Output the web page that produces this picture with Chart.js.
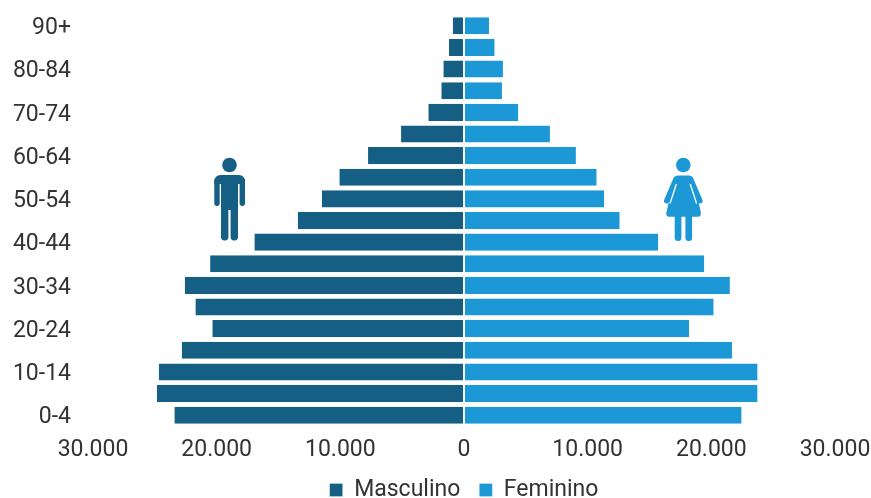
<!DOCTYPE html>
<html><head><meta charset="utf-8">
<style>html,body{margin:0;padding:0;background:#fff}#w{width:871px;height:498px;position:relative}</style>
<script src="https://cdn.jsdelivr.net/npm/chart.js@4"></script>
</head><body><div id="w"><canvas id="c"></canvas></div>
<script>
const categories = ['90+','85-89','80-84','75-79','70-74','65-69','60-64','55-59','50-54','45-49','40-44','35-39','30-34','25-29','20-24','15-19','10-14','5-9','0-4'];
const masculino = [-910,-1210,-1670,-1835,-2885,-5090,-7760,-10080,-11500,-13445,-16950,-20530,-22580,-21720,-20350,-22820,-24680,-24840,-23420];
const feminino = [2020,2480,3150,3070,4390,6950,9050,10730,11340,12590,15710,19430,21500,20190,18210,21670,23740,23740,22450];
const xTicks = [-30000,-20000,-10000,0,10000,20000,30000];
const DARK='#155F85', LIGHT='#1C98D6', TEXT='#333333';
const FONT='Roboto';

const legendShift={id:'legendShift',afterLayout(ch){ch.legend.top=459.5;}};
const icons={id:'icons',afterDraw(ch){
  const c=ch.ctx;c.save();
  // man
  c.fillStyle=DARK;
  c.beginPath();c.arc(229.5,165,7.3,0,7);c.fill();
  const rr=(x,y,w,h,r)=>{c.beginPath();c.roundRect(x,y,w,h,r);c.fill();};
  rr(214.3,175,30.7,9,[6,6,0,0]);
  rr(214.3,178,5.4,28,2.7);
  rr(239.6,178,5.4,28,2.7);
  rr(221,176,17,34,0);
  rr(221,200,7.4,40.5,3.4);
  rr(230.6,200,7.4,40.5,3.4);
  // woman
  c.fillStyle=LIGHT;c.strokeStyle=LIGHT;c.lineCap='round';
  c.beginPath();c.arc(683.3,165,7.3,0,7);c.fill();
  c.beginPath();
  c.moveTo(678,175.4);c.lineTo(689,175.4);c.quadraticCurveTo(692,175.4,693,179);
  c.lineTo(700.8,212);c.quadraticCurveTo(701.5,216.8,698,216.8);
  c.lineTo(669,216.8);c.quadraticCurveTo(665.5,216.8,666.5,212);
  c.lineTo(674,179);c.quadraticCurveTo(675,175.4,678,175.4);c.closePath();c.fill();
  c.lineWidth=5.4;
  c.beginPath();c.moveTo(676,179);c.lineTo(666.7,200.8);c.stroke();
  c.beginPath();c.moveTo(690.6,179);c.lineTo(699.9,200.8);c.stroke();
  c.strokeStyle='#fff';c.lineWidth=1.3;c.lineCap='butt';
  c.beginPath();c.moveTo(676.4,184);c.lineTo(670,203.5);c.stroke();
  c.beginPath();c.moveTo(690.2,184);c.lineTo(696.6,203.5);c.stroke();
  rr(674.7,212,6.7,29,3.2);
  rr(685.4,212,6.7,29,3.2);
  c.restore();
}};

new Chart(document.getElementById('c'),{
  type:'bar',
  data:{labels:categories,datasets:[
    {label:'Masculino',data:masculino,backgroundColor:DARK,borderColor:'#fff',borderWidth:{right:1},borderSkipped:false},
    {label:'Feminino',data:feminino,backgroundColor:LIGHT,borderColor:'#fff',borderWidth:{left:1},borderSkipped:false}
  ]},
  options:{
    indexAxis:'y',responsive:true,maintainAspectRatio:false,animation:false,
    layout:{padding:{left:0,right:36,top:15,bottom:-22}},
    datasets:{bar:{categoryPercentage:1,barPercentage:0.79}},
    plugins:{
      tooltip:{enabled:false},
      legend:{position:'bottom',fullSize:false,labels:{
        font:{family:FONT,size:23},color:TEXT,boxWidth:13,boxHeight:13,padding:19
      }}
    },
    scales:{
      x:{stacked:true,min:-30000,max:30000,grid:{display:false},border:{display:false},
        afterBuildTicks(s){s.ticks=xTicks.map(v=>({value:v}));},
        afterFit(s){s.height=42;s.paddingLeft=0;s.paddingRight=0;},
        ticks:{autoSkip:false,maxRotation:0,padding:2,color:TEXT,font:{family:FONT,size:23},
          callback:v=>Math.abs(v).toLocaleString('de-DE')}},
      y:{stacked:true,grid:{display:false},border:{display:false},
        afterFit(s){s.width=93;s.paddingTop=0;s.paddingBottom=0;},
        ticks:{autoSkip:false,padding:14,labelOffset:2.5,color:TEXT,font:{family:FONT,size:23},
          callback(v,i){return i%2===0?this.getLabelForValue(v):'';}}}
    }
  },
  plugins:[legendShift,icons]
});
</script></body></html>
